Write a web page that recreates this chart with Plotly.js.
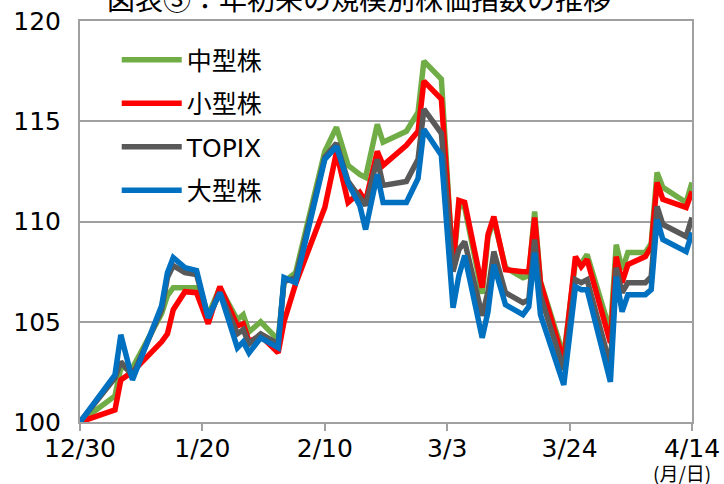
<!DOCTYPE html>
<html>
<head>
<meta charset="utf-8">
<script src="https://cdn.plot.ly/plotly-3.0.1.min.js"></script>
<style>html,body{margin:0;padding:0;background:#fff;}#chart{width:724px;height:484px;}</style>
</head>
<body>
<div id="chart"></div>
<script>
// dates of the plotted points (year is nominal; only month/day is shown)
var dates = [
  "2022-12-30","2023-01-05","2023-01-06","2023-01-08","2023-01-13","2023-01-14","2023-01-15","2023-01-17",
  "2023-01-19","2023-01-21","2023-01-23","2023-01-26","2023-01-27","2023-01-28","2023-01-30","2023-02-02",
  "2023-02-03","2023-02-05","2023-02-10","2023-02-12","2023-02-14","2023-02-16","2023-02-17","2023-02-19",
  "2023-02-20","2023-02-24","2023-02-26","2023-02-27","2023-03-02","2023-03-04","2023-03-05","2023-03-06",
  "2023-03-09","2023-03-10","2023-03-11","2023-03-13","2023-03-16","2023-03-17","2023-03-18","2023-03-19",
  "2023-03-23","2023-03-25","2023-03-26","2023-03-27","2023-03-31","2023-04-01","2023-04-02","2023-04-03",
  "2023-04-06","2023-04-07","2023-04-08","2023-04-09","2023-04-13","2023-04-14"
];
var midCap = [
  100, 101.3, 102.7, 102.7, 105.4, 106.3, 106.7, 106.7,
  106.7, 105.35, 106.7, 105.1, 105.35, 104.5, 105.0, 104.1,
  107.0, 107.45, 113.5, 114.7, 112.8, 112.35, 112.2, 114.85,
  113.95, 114.5, 115.45, 118.0, 117.1, 107.6, 110.8, 110.7,
  106.4, 109.2, 110.1, 107.7, 107.2, 107.3, 110.5, 107.0,
  103.3, 108.0, 107.9, 108.35, 104.5, 108.85, 107.6, 108.45,
  108.45, 108.9, 112.45, 111.7, 110.95, 111.95
];
var smallCap = [
  100, 100.6, 102.1, 102.5, 104.0, 104.4, 105.6, 106.5,
  106.45, 104.9, 106.75, 104.8, 104.9, 104.0, 104.3, 103.45,
  105.0, 106.9, 110.7, 113.45, 110.95, 111.45, 111.0, 113.5,
  112.8, 113.8, 114.5, 117.0, 116.1, 107.8, 111.05, 110.95,
  106.7, 109.35, 110.25, 107.6, 107.5, 107.5, 110.2, 106.95,
  103.0, 108.25, 107.75, 108.1, 103.95, 108.25, 106.95, 107.85,
  108.25, 108.75, 111.95, 111.1, 110.7, 111.5
];
var topix = [
  100, 102.2, 103.0, 102.3, 105.6, 107.2, 107.8, 107.45,
  107.35, 105.2, 106.45, 104.4, 104.6, 103.9, 104.4, 103.9,
  107.0, 107.2, 113.2, 113.9, 112.0, 111.2, 110.8, 113.1,
  111.8, 112.0, 113.1, 115.6, 114.4, 107.5, 108.6, 109.0,
  105.3, 106.5, 108.5, 106.45, 105.95, 106.1, 109.1, 106.3,
  102.6, 107.1, 106.95, 107.1, 102.8, 107.7, 106.45, 106.95,
  106.95, 107.25, 110.75, 109.85, 109.25, 110.2
];
var largeCap = [
  100, 102.35, 104.35, 102.1, 105.8, 107.45, 108.2, 107.7,
  107.55, 105.2, 106.45, 103.7, 104.0, 103.45, 104.2, 103.7,
  107.2, 106.95, 113.1, 113.75, 111.9, 110.8, 109.6, 112.35,
  110.95, 110.95, 112.15, 114.6, 113.3, 105.7, 107.3, 108.3,
  104.2, 105.5, 107.85, 105.85, 105.35, 105.75, 108.45, 105.35,
  101.85, 106.75, 106.6, 106.6, 102.0, 107.25, 105.5, 106.35,
  106.35, 106.6, 110.1, 109.1, 108.5, 109.45
];
var seriesNames = ["中型株", "小型株", "TOPIX", "大型株"];
var seriesColors = ["#70AD47", "#FF0000", "#595959", "#0070C0"];
var tickDates = ["2022-12-30","2023-01-20","2023-02-10","2023-03-03","2023-03-24","2023-04-14"];
var tickLabels = ["12/30","1/20","2/10","3/3","3/24","4/14"];
var titleText = "図表③：年初来の規模別株価指数の推移";
var unitText = "(月/日)";

var seriesValues = [midCap, smallCap, topix, largeCap];
var traces = seriesValues.map(function (vals, i) {
  return {
    type: "scatter", mode: "lines",
    x: dates, y: vals, name: seriesNames[i],
    legendgroup: "g" + i,
    line: {color: seriesColors[i], width: 5.5, shape: "linear"},
    hoverinfo: "skip"
  };
});

var gridGray = "#a0a0a0";
var layout = {
  width: 724, height: 484,
  margin: {l: 80, r: 32, t: 21, b: 62},
  paper_bgcolor: "#fff", plot_bgcolor: "#fff",
  font: {family: "DejaVu Sans, Noto Sans CJK JP, sans-serif", color: "#000"},
  title: {
    text: titleText, x: 0.496, xanchor: "center", xref: "container",
    y: 1, yanchor: "middle", yref: "container",
    font: {family: "Noto Sans CJK JP, sans-serif", size: 28, color: "#000"}
  },
  showlegend: true,
  legend: {
    x: 0.06, y: 0.96, xanchor: "left", yanchor: "top",
    bgcolor: "rgba(0,0,0,0)", borderwidth: 0,
    font: {family: "DejaVu Sans, Noto Sans CJK JP, sans-serif", size: 25, color: "#000"},
    traceorder: "grouped", tracegroupgap: 8, itemwidth: 60
  },
  xaxis: {
    type: "date",
    range: [tickDates[0], tickDates[tickDates.length - 1]],
    tickmode: "array", tickvals: tickDates, ticktext: tickLabels,
    showgrid: false, zeroline: false,
    showline: true, linecolor: gridGray, linewidth: 2, mirror: true,
    ticks: "outside", ticklen: 7, tickwidth: 2, tickcolor: gridGray,
    ticklabelstandoff: -4,
    tickfont: {size: 25, family: "DejaVu Sans, sans-serif", color: "#000"}
  },
  yaxis: {
    range: [100, 120], tickmode: "linear", tick0: 100, dtick: 5,
    showgrid: true, gridcolor: gridGray, gridwidth: 2, zeroline: false,
    showline: true, linecolor: gridGray, linewidth: 2, mirror: true,
    ticks: "", ticklabelstandoff: 12,
    tickfont: {size: 25, family: "DejaVu Sans, sans-serif", color: "#000"}
  },
  annotations: [{
    text: unitText, xref: "paper", yref: "paper",
    x: 1.0, y: 0, xanchor: "left", yanchor: "top", xshift: -41, yshift: -35,
    showarrow: false,
    font: {family: "Noto Sans CJK JP, sans-serif", size: 19, color: "#000"}
  }]
};

Plotly.newPlot("chart", traces, layout, {staticPlot: true, displayModeBar: false});
</script>
</body>
</html>
